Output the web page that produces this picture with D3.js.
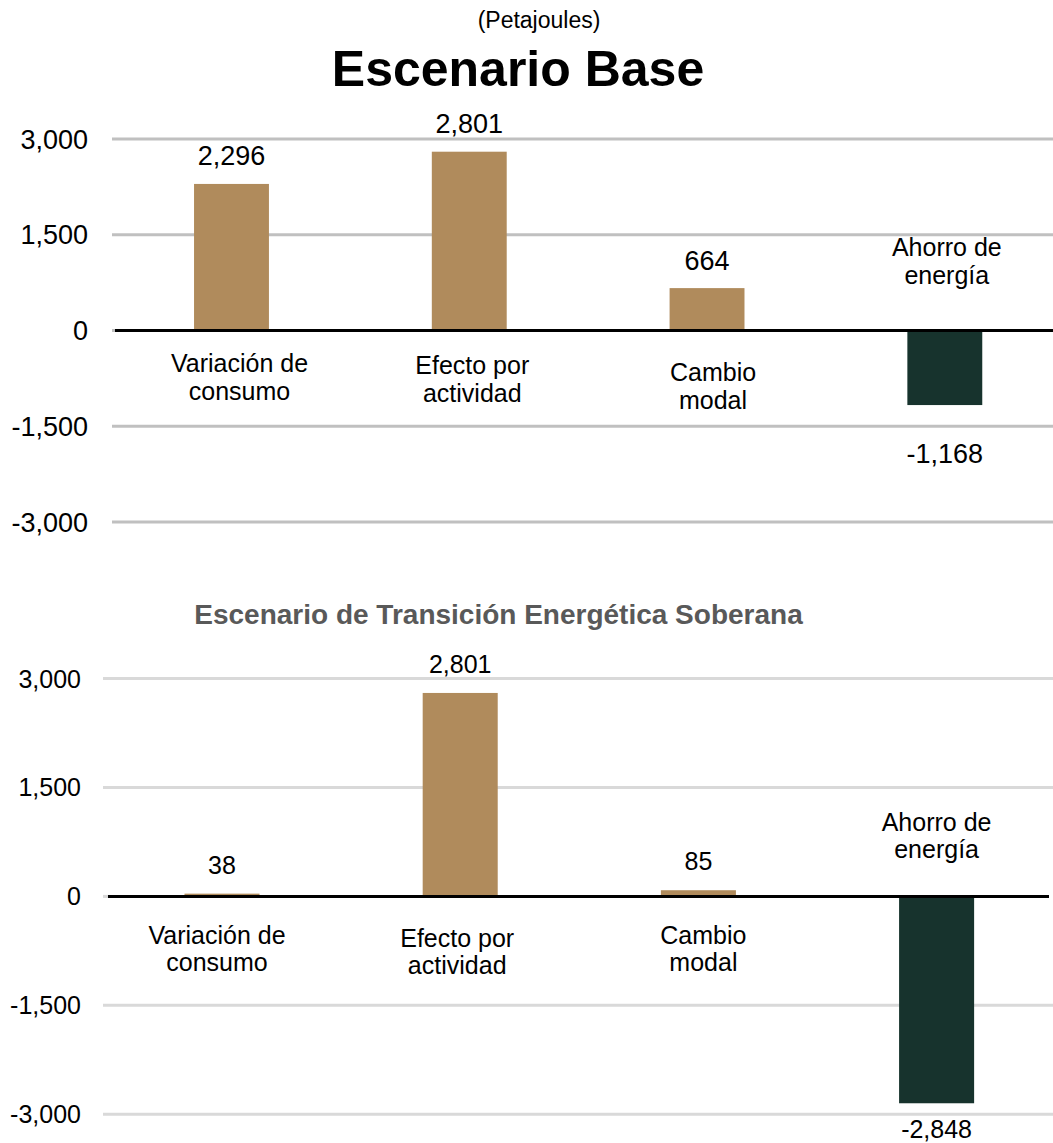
<!DOCTYPE html>
<html><head><meta charset="utf-8">
<script src="https://cdn.jsdelivr.net/npm/d3@7"></script>
<style>body{margin:0;background:#fff} text{font-family:"Liberation Sans",Arial,sans-serif}</style>
</head><body><svg id="c" width="1053" height="1143"></svg>
<script>
// ---- data ----
const categories = ["Variación de consumo", "Efecto por actividad", "Cambio modal", "Ahorro de energía"];
const categoryLines = [["Variación de", "consumo"], ["Efecto por", "actividad"], ["Cambio", "modal"], ["Ahorro de", "energía"]];
const baseValues = [2296, 2801, 664, -1168];
const transitionValues = [38, 2801, 85, -2848];
const tickValues = [3000, 1500, 0, -1500, -3000];
const unitLabel = "(Petajoules)";
const baseTitle = "Escenario Base";
const transitionTitle = "Escenario de Transición Energética Soberana";

// ---- layout ----
const W = 1053;
const svg = d3.select("#c");
const fmt0 = d3.format(",");
const fmt = v => fmt0(v).replace("\u2212", "-");
const colPos = "#b08b5c", colNeg = "#17332d";

const panels = [
  { values: baseValues, yRange: [522, 139], xRange: [112.6, 1063.7], gridStart: 112, zeroStart: 115, zeroEnd: W,
    gridColor: "#c0c0c0", tickX: 88, tickSize: 27, valSize: 27, catSize: 25,
    posOff: -18.5, negOff: 57.5, catDy: [41, 43, 50, -47], catDx: [8, 3, 6, 2], lineH: 28 },
  { values: transitionValues, yRange: [1114.3, 678.5], xRange: [102.9, 1055.7], gridStart: 103, zeroStart: 108, zeroEnd: 1049,
    gridColor: "#d9d9d9", tickX: 81, tickSize: 25, valSize: 25, catSize: 25,
    posOff: -20, negOff: 35, catDy: [48, 51, 48, -38], catDx: [-5, -3, 5, 0], lineH: 27 }
];

svg.append("text").attr("x", 539).attr("y", 28).attr("text-anchor", "middle")
  .attr("font-size", 23).attr("fill", "#000").text(unitLabel);
svg.append("text").attr("x", 518).attr("y", 86).attr("text-anchor", "middle")
  .attr("font-size", 50).attr("font-weight", "bold").attr("fill", "#000").text(baseTitle);
svg.append("text").attr("x", 498.5).attr("y", 624).attr("text-anchor", "middle")
  .attr("font-size", 28).attr("font-weight", "bold").attr("fill", "#595959").text(transitionTitle);

panels.forEach(p => {
  const y = d3.scaleLinear().domain([-3000, 3000]).range(p.yRange);
  const x = d3.scaleBand().domain(categories).range(p.xRange).paddingInner(0.685).paddingOuter(0.3425);
  const g = svg.append("g");

  // gridlines
  g.selectAll(".grid").data(tickValues.filter(t => t !== 0)).enter().append("line")
    .attr("x1", p.gridStart).attr("x2", W)
    .attr("y1", d => y(d)).attr("y2", d => y(d))
    .attr("stroke", p.gridColor).attr("stroke-width", 3);
  g.append("line").attr("x1", p.gridStart).attr("x2", p.zeroStart + 2)
    .attr("y1", y(0)).attr("y2", y(0)).attr("stroke", p.gridColor).attr("stroke-width", 3);

  // tick labels
  g.selectAll(".tick").data(tickValues).enter().append("text")
    .attr("x", p.tickX).attr("y", d => y(d)).attr("dy", "0.36em")
    .attr("text-anchor", "end").attr("font-size", p.tickSize).attr("fill", "#000")
    .text(d => fmt(d));

  // bars
  g.selectAll(".bar").data(p.values).enter().append("rect")
    .attr("x", (d, i) => x(categories[i]))
    .attr("width", x.bandwidth())
    .attr("y", d => y(Math.max(0, d)))
    .attr("height", d => Math.abs(y(d) - y(0)))
    .attr("fill", d => d >= 0 ? colPos : colNeg);

  // zero line
  g.append("line").attr("x1", p.zeroStart).attr("x2", p.zeroEnd)
    .attr("y1", y(0)).attr("y2", y(0)).attr("stroke", "#000").attr("stroke-width", 3);

  // value labels
  g.selectAll(".val").data(p.values).enter().append("text")
    .attr("x", (d, i) => x(categories[i]) + x.bandwidth() / 2)
    .attr("y", d => y(d) + (d >= 0 ? p.posOff : p.negOff))
    .attr("text-anchor", "middle").attr("font-size", p.valSize).attr("fill", "#000")
    .text(d => fmt(d));

  // category labels
  categoryLines.forEach((lines, i) => {
    const cx = x(categories[i]) + x.bandwidth() / 2 + p.catDx[i];
    const t = g.append("text")
      .attr("x", cx)
      .attr("y", y(0) + p.catDy[i] + (p.catDy[i] < 0 ? -p.lineH : 0))
      .attr("text-anchor", "middle").attr("font-size", p.catSize).attr("fill", "#000");
    lines.forEach((ln, j) => {
      t.append("tspan").attr("x", cx).attr("dy", j === 0 ? 0 : p.lineH).text(ln);
    });
  });
});
</script></body></html>
